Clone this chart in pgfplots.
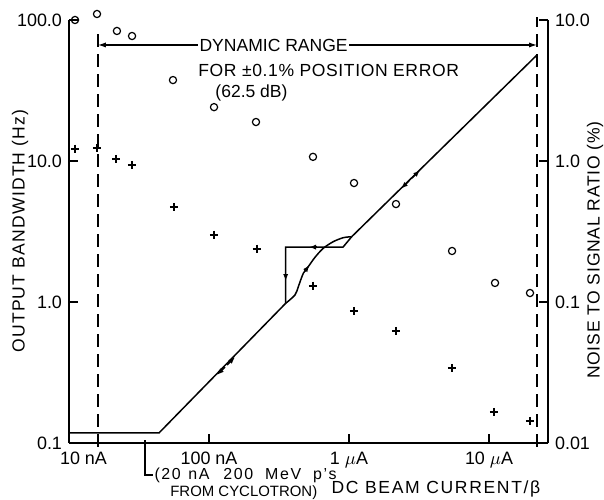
\documentclass[border=0pt]{standalone}
\usepackage{fontspec}
\setmainfont{Liberation Sans}
\usepackage{pgfplots}
\pgfplotsset{compat=1.18}
\usetikzlibrary{arrows.meta}

\newcommand{\spaced}[2]{{\addfontfeatures{LetterSpace=#1}#2}}
\tikzset{
  trace/.style={line width=0.75bp, black},
  tip/.style={line width=0.75bp, black, -{Latex[length=3.5bp,width=2.6bp]}},
}

\begin{document}
\begin{tikzpicture}[font=\fontsize{8.8}{10}\selectfont]
\useasboundingbox (-34.5bp,-28.5bp) rectangle (267.5bp,221.5bp);
\begin{axis}[
  scale only axis, width=239.5bp, height=211.5bp,
  xmode=log, ymode=log, xmin=10, xmax=26390, ymin=0.1, ymax=100,
  axis x line=bottom, axis y line=left,
  axis line style={-, line width=1.2bp},
  xminorticks=false, yminorticks=false,
  tick align=inside, major tick length=4.5bp,
  tick style={line width=0.8bp, black},
  tick label style={font=\fontsize{9}{10}\selectfont},
  xticklabel style={yshift=-1bp},
  label style={font=\fontsize{8.8}{10}\selectfont},
  clip=false,
  xtick={16.1,100,1000,10000},
  xticklabels={\makebox[0pt][r]{10 nA\hspace*{-4.5bp}}, 100 nA, 1 $\mu$A, 10 $\mu$A},
  ytick={0.1,1,10,100},
  yticklabels={0.1,1.0,10.0,100.0},
  xlabel={\spaced{9.5}{DC BEAM CURRENT/β}},
  xlabel style={at={(axis description cs:0.766,-0.1087)}, anchor=center},
  ylabel={\spaced{7}{OUTPUT BANDWIDTH (Hz)}},
  ylabel style={at={(axis description cs:-0.102,0.501)}, anchor=center},
]
% open circles
\addplot[only marks, mark=o, mark size=1.8bp, mark options={line width=0.6bp}] coordinates {
  (11.04,100) (15.85,110.3) (22.0,83.6) (28.2,77.0) (55.3,37.5) (108.6,24.1)
  (216.6,18.9) (553,10.7) (1086,6.98) (2166,4.95) (5445,2.30) (11040,1.365) (19630,1.158)};
% plus signs
\addplot[only marks, mark=+, mark size=2.1bp, mark options={line width=0.8bp}] coordinates {
  (11.04,12.2) (15.85,12.4) (21.7,10.3) (28.2,9.37) (56.2,4.72) (108.6,2.99)
  (220,2.38) (553,1.30) (1086,0.864) (2166,0.622) (5445,0.340) (10860,0.166) (19630,0.143)};
% transfer curve
\addplot[trace] coordinates {(10,0.118) (44,0.118) (353,0.979)};
\addplot[trace] coordinates {(1045,2.904) (22030,56.5)};
\addplot[trace, smooth] coordinates {
  (353,0.979) (411,1.121) (434.5,1.284) (471.6,1.598) (511.7,1.78) (571.5,2.075)
  (655,2.404) (772,2.678) (910,2.858) (1045,2.904)};
\addplot[trace] coordinates {(1045,2.904) (906,2.45) (353,2.45) (353,0.979)};
% arrowheads on the curve
\addplot[tip] coordinates {(130.1,0.3459) (114.0,0.3036)};
\addplot[tip] coordinates {(134.5,0.3574) (153.4,0.4074)};
\addplot[tip] coordinates {(2683,7.225) (2352,6.35)};
\addplot[tip] coordinates {(2818,7.575) (3215,8.62)};
\addplot[tip] coordinates {(353,1.606) (353,1.409)};
\addplot[tip] coordinates {(590.8,2.45) (518.0,2.45)};
\addplot[tip] coordinates {(482.7,1.648) (522,1.83)};
% dynamic range limits
\addplot[line width=0.65bp, dash pattern=on 6.5bp off 3.5bp] coordinates {(16.1,0.094) (16.1,87.7)};
\addplot[line width=0.65bp, dash pattern=on 6.5bp off 3.5bp] coordinates {(22030,0.094) (22030,105)};

\node[anchor=west, inner sep=0.6bp] (dr) at (axis cs:83.4,66.5) {DYNAMIC RANGE};
\draw[line width=0.6bp, -{Latex[length=4bp,width=2.6bp]}] (dr.west) -- (axis cs:16.1,66.5);
\draw[line width=0.6bp, -{Latex[length=4bp,width=2.6bp]}] (dr.east) -- (axis cs:22030,66.5);
\node[anchor=west, inner sep=0] at (axis cs:83.4,44.2) {\spaced{3.5}{FOR ±0.1\% POSITION ERROR}};
\node[anchor=west, inner sep=0] at (axis cs:110.4,30.2) {(62.5 dB)};

\draw[line width=0.6bp] (axis cs:34.9,0.105) |- ++(4bp,-17.5bp)
  node[anchor=west, inner sep=0.5bp, font=\fontsize{8}{9}\selectfont]
  {\spaced{10}{(20\hspace{0.75bp} nA\hspace{4bp} 200\hspace{3bp} MeV\hspace{3bp} p's}};
\node[anchor=west, inner sep=0, font=\fontsize{7.5}{9}\selectfont] at (axis cs:52.6,0.0442) {FROM CYCLOTRON)};
\end{axis}
\begin{axis}[
  scale only axis, width=239.5bp, height=211.5bp,
  xmode=log, ymode=log, xmin=10, xmax=26390, ymin=0.01, ymax=10,
  axis x line=none, axis y line=right,
  axis line style={-, line width=1.2bp},
  xminorticks=false, yminorticks=false,
  tick align=inside, major tick length=4.5bp,
  tick style={line width=0.8bp, black},
  tick label style={font=\fontsize{9}{10}\selectfont},
  label style={font=\fontsize{8.8}{10}\selectfont},
  xtick=\empty,
  ytick={0.01,0.1,1,10},
  yticklabels={0.01,0.1,1.0,10.0},
  ylabel={\spaced{4.5}{NOISE TO SIGNAL RATIO (\%)}},
  ylabel style={at={(axis description cs:1.098,0.456)}, anchor=center},
]
\addplot[draw=none] coordinates {(100,1)};
\end{axis}
\end{tikzpicture}
\end{document}
